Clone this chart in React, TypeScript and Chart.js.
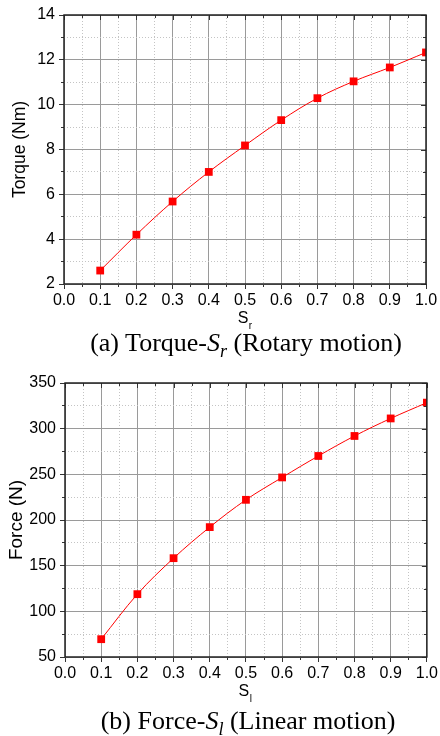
import React, { useEffect, useRef } from 'react';
import { Chart, registerables } from 'chart.js';

Chart.register(...registerables);

// ---- data ----
const sValues = [0.1, 0.2, 0.3, 0.4, 0.5, 0.6, 0.7, 0.8, 0.9, 1.0];
const torqueValues = [2.6, 4.2, 5.68, 7.0, 8.18, 9.31, 10.29, 11.04, 11.66, 12.33];
const forceValues = [69.5, 118.8, 158.2, 192.2, 222.1, 246.6, 270.1, 292.0, 311.2, 328.5];

const xRange = [0.0, 1.0];
const xMajorStep = 0.1;
const xMinorStep = 0.05;
const torqueRange = [2, 14];
const torqueMajorStep = 2;
const torqueMinorStep = 1;
const forceRange = [50, 350];
const forceMajorStep = 50;
const forceMinorStep = 25;

const SANS = "'Liberation Sans', Arial, sans-serif";
const SERIF = "'Liberation Serif', 'Times New Roman', serif";

const isMultiple = (v: number, step: number) => {
  const q = v / step;
  return Math.abs(q - Math.round(q)) < 1e-6;
};

const framePlugin = {
  id: 'frameAndTitle',
  afterDraw(chart: any, _args: any, opts: any) {
    const { ctx, chartArea } = chart;
    const { left, right, top, bottom } = chartArea;
    const x = chart.scales.x;
    const xm = chart.scales.xm;
    const y = chart.scales.y;
    const ym = chart.scales.ym;
    ctx.save();
    ctx.strokeStyle = '#333';
    ctx.lineWidth = 1;
    // inward ticks on top and right
    ctx.beginPath();
    xm.ticks.forEach((t: any) => {
      const px = Math.round(x.getPixelForValue(t.value)) + 0.5;
      const len = isMultiple(t.value, opts.xMajor) ? 5 : 3;
      ctx.moveTo(px, top);
      ctx.lineTo(px, top + len);
    });
    ym.ticks.forEach((t: any) => {
      const py = Math.round(y.getPixelForValue(t.value)) + 0.5;
      const len = isMultiple(t.value, opts.yMajor) ? 5 : 3;
      ctx.moveTo(right, py);
      ctx.lineTo(right - len, py);
    });
    ctx.stroke();
    // frame
    ctx.strokeStyle = '#222';
    ctx.lineWidth = 1.5;
    ctx.strokeRect(left, top, right - left, bottom - top);
    // x title with subscript
    ctx.fillStyle = '#000';
    ctx.textBaseline = 'alphabetic';
    ctx.font = `16px ${SANS}`;
    const cx = (left + right) / 2 - 2;
    const base = bottom + 39;
    ctx.textAlign = 'center';
    ctx.fillText('S', cx, base);
    const sw = ctx.measureText('S').width;
    ctx.font = `10px ${SANS}`;
    ctx.textAlign = 'left';
    ctx.fillText(opts.sub, cx + sw / 2 + 0.5, base + 6);
    ctx.restore();
  },
};

interface Params {
  ys: number[];
  yRange: number[];
  yMajor: number;
  yMinor: number;
  yTitle: string;
  yTitleSize: number;
  yTitlePad: number;
  sub: string;
  padTop: number;
  padRight: number;
  yWidth: number;
  xHeight: number;
}

function makeConfig(p: Params): any {
  const tickFont = { family: SANS, size: 16 };
  return {
    type: 'line',
    data: {
      datasets: [
        {
          data: sValues.map((s, i) => ({ x: s, y: p.ys[i] })),
          borderColor: '#ff0000',
          backgroundColor: '#ff0000',
          borderWidth: 1,
          pointStyle: 'rect',
          pointRadius: 5.5,
          pointBorderWidth: 0,
          pointBackgroundColor: '#ff0000',
          tension: 0.35,
        },
      ],
    },
    options: {
      responsive: false,
      maintainAspectRatio: false,
      animation: false,
      layout: { padding: { top: p.padTop, right: p.padRight, left: 0, bottom: 0 } },
      plugins: {
        legend: { display: false },
        tooltip: { enabled: false },
        frameAndTitle: { xMajor: xMajorStep, yMajor: p.yMajor, sub: p.sub },
      },
      scales: {
        x: {
          type: 'linear',
          position: 'bottom',
          weight: 1,
          min: xRange[0],
          max: xRange[1],
          ticks: {
            stepSize: xMajorStep,
            font: tickFont,
            color: '#000',
            padding: 2,
            maxRotation: 0,
            autoSkip: false,
            callback: (v: number) => Number(v).toFixed(1),
          },
          grid: { color: '#9a9a9a', lineWidth: 1, tickLength: 5, tickColor: '#333', tickWidth: 1 },
          border: { display: false },
          afterFit: (s: any) => {
            s.height = p.xHeight;
          },
        },
        xm: {
          type: 'linear',
          position: 'bottom',
          weight: 0,
          min: xRange[0],
          max: xRange[1],
          ticks: { display: false, stepSize: xMinorStep },
          grid: {
            color: (c: any) => (c.tick && isMultiple(c.tick.value, xMajorStep) ? 'rgba(0,0,0,0)' : '#c4c4c4'),
            tickColor: (c: any) => (c.tick && isMultiple(c.tick.value, xMajorStep) ? 'rgba(0,0,0,0)' : '#333'),
            lineWidth: 1,
            tickLength: 3,
            borderDash: [1, 2],
          },
          border: { display: false, dash: [1, 2] },
          afterFit: (s: any) => {
            s.height = 0;
          },
        },
        y: {
          type: 'linear',
          position: 'left',
          weight: 1,
          min: p.yRange[0],
          max: p.yRange[1],
          ticks: { stepSize: p.yMajor, font: tickFont, color: '#000', padding: 4 },
          grid: { color: '#9a9a9a', lineWidth: 1, tickLength: 5, tickColor: '#333', tickWidth: 1 },
          border: { display: false },
          title: {
            display: true,
            text: p.yTitle,
            color: '#000',
            font: { family: SANS, size: p.yTitleSize },
            padding: { top: p.yTitlePad, bottom: 0 },
          },
          afterFit: (s: any) => {
            s.width = p.yWidth;
          },
        },
        ym: {
          type: 'linear',
          position: 'left',
          weight: 0,
          min: p.yRange[0],
          max: p.yRange[1],
          ticks: { display: false, stepSize: p.yMinor },
          grid: {
            color: (c: any) => (c.tick && isMultiple(c.tick.value, p.yMajor) ? 'rgba(0,0,0,0)' : '#c4c4c4'),
            tickColor: (c: any) => (c.tick && isMultiple(c.tick.value, p.yMajor) ? 'rgba(0,0,0,0)' : '#333'),
            lineWidth: 1,
            tickLength: 3,
            borderDash: [1, 2],
          },
          border: { display: false, dash: [1, 2] },
          afterFit: (s: any) => {
            s.width = 0;
          },
        },
      },
    },
    plugins: [framePlugin],
  };
}

function Plot({ params, width, height }: { params: Params; width: number; height: number }) {
  const ref = useRef<HTMLCanvasElement | null>(null);
  useEffect(() => {
    if (!ref.current) return;
    const chart = new Chart(ref.current, makeConfig(params));
    return () => chart.destroy();
  }, []);
  return <canvas ref={ref} width={width} height={height} style={{ display: 'block', width, height }} />;
}

const torqueParams: Params = {
  ys: torqueValues,
  yRange: torqueRange,
  yMajor: torqueMajorStep,
  yMinor: torqueMinorStep,
  yTitle: 'Torque (Nm)',
  yTitleSize: 17.5,
  yTitlePad: 10,
  sub: 'r',
  padTop: 15,
  padRight: 14,
  yWidth: 64,
  xHeight: 48,
};

const forceParams: Params = {
  ys: forceValues,
  yRange: forceRange,
  yMajor: forceMajorStep,
  yMinor: forceMinorStep,
  yTitle: 'Force (N)',
  yTitleSize: 19,
  yTitlePad: 5,
  sub: 'l',
  padTop: 23,
  padRight: 12,
  yWidth: 65,
  xHeight: 53,
};

const captionStyle: React.CSSProperties = {
  position: 'absolute',
  transform: 'translateX(-50%)',
  whiteSpace: 'nowrap',
  fontFamily: SERIF,
  fontSize: 26,
  lineHeight: '30px',
  color: '#000',
};

export default function App() {
  return (
    <div style={{ position: 'absolute', left: 0, top: 0, width: 440, height: 736, background: '#fff', overflow: 'hidden' }}>
      <div style={{ position: 'absolute', left: 0, top: 0 }}>
        <Plot params={torqueParams} width={440} height={332} />
      </div>
      <div style={{ ...captionStyle, left: 246, top: 328 }}>
        (a) Torque-<i>S<sub style={{ fontSize: '70%' }}>r</sub></i> (Rotary motion)
      </div>
      <div style={{ position: 'absolute', left: 0, top: 360 }}>
        <Plot params={forceParams} width={440} height={350} />
      </div>
      <div style={{ ...captionStyle, left: 248, top: 706 }}>
        (b) Force-<i>S<sub style={{ fontSize: '70%' }}>l</sub></i> (Linear motion)
      </div>
    </div>
  );
}
